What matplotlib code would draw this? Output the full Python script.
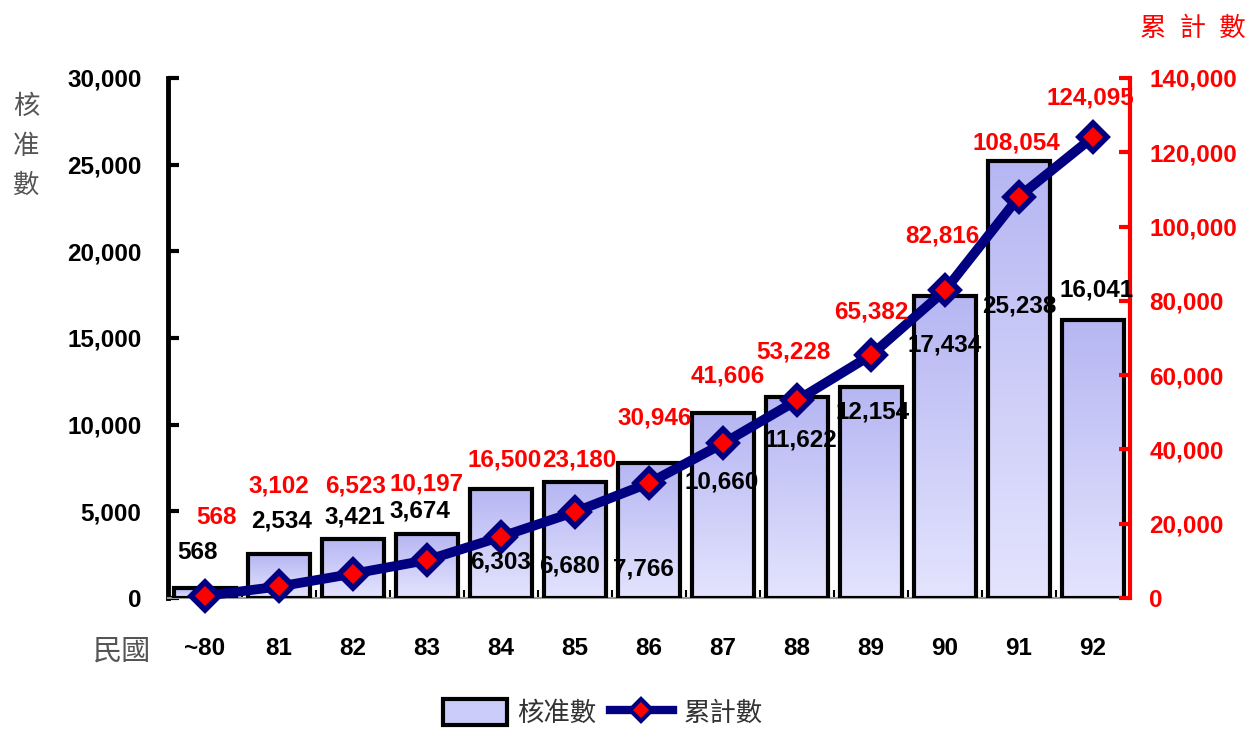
import matplotlib
matplotlib.use("Agg")
import matplotlib.pyplot as plt
import numpy as np
from matplotlib.colors import LinearSegmentedColormap
from matplotlib.patches import Patch
from matplotlib.lines import Line2D
from matplotlib.ticker import FuncFormatter, MultipleLocator

categories = ["~80", "81", "82", "83", "84", "85", "86", "87", "88", "89", "90", "91", "92"]
approved = [568, 2534, 3421, 3674, 6303, 6680, 7766, 10660, 11622, 12154, 17434, 25238, 16041]
cumulative = [568, 3102, 6523, 10197, 16500, 23180, 30946, 41606, 53228, 65382, 82816, 108054, 124095]
left_ticks = [0, 5000, 10000, 15000, 20000, 25000, 30000]
right_ticks = [0, 20000, 40000, 60000, 80000, 100000, 120000, 140000]

# label placement (layout only)
bar_label_y = [2600, 4440, 4670, 5020, 2080, 1850, 1670, 6690, 9110, 10730, 14600, 16850, 17770]
bar_label_dx = [-0.1, 0.03, 0.03, -0.1, 0.0, -0.08, -0.07, -0.02, 0.05, 0.02, 0.0, 0.0, 0.05]
cum_label_y = [21800, 30150, 30150, 30700, 37150, 37150, 48460, 59770, 66230, 77000, 97460, 122500, 134600]
cum_label_dx = [0.16, 0.0, 0.04, 0.0, 0.05, 0.06, 0.08, 0.06, -0.05, 0.0, -0.03, -0.04, -0.04]

FONT = "Liberation Sans"
CJK = ["Noto Sans CJK TC", "DejaVu Sans"]
FS = 17.5

fig = plt.figure(figsize=(12.46, 7.31), dpi=100)
ax = fig.add_axes([168/1246, 1-598/731, (1130-168)/1246, (598-78)/731])
ax2 = ax.twinx()

x = np.arange(len(categories))
bars = ax.bar(x, approved, width=0.84, facecolor="none", edgecolor="black", linewidth=3, zorder=3)

cmap = LinearSegmentedColormap.from_list("lav", ["#e4e4fe", "#b6b6f3"])
grad = np.linspace(0, 1, 256).reshape(-1, 1)
for rect in bars:
    x0, y0 = rect.get_x(), rect.get_y()
    w, h = rect.get_width(), rect.get_height()
    im = ax.imshow(grad, extent=[x0, x0 + w, y0, y0 + h], aspect="auto",
                   cmap=cmap, origin="lower", zorder=2, interpolation="bilinear")
    im.set_clip_path(rect)

ax.set_xlim(-0.5, len(categories) - 0.5)
ax.set_ylim(0, 30000)
ax2.set_ylim(0, 140000)

fmt = FuncFormatter(lambda v, p: f"{int(v):,}")
ax.set_yticks(left_ticks)
ax.yaxis.set_major_formatter(fmt)
ax2.set_yticks(right_ticks)
ax2.yaxis.set_major_formatter(fmt)

ax.set_xticks(x)
ax.set_xticklabels(categories)
ax.xaxis.set_minor_locator(MultipleLocator(1, offset=0.5))
ax.tick_params(axis="x", which="major", length=0, pad=28)
ax.tick_params(axis="x", which="minor", length=6, width=1.5, direction="in", color="black")

for lbl in ax.get_xticklabels() + ax.get_yticklabels():
    lbl.set_fontfamily(FONT)
    lbl.set_fontweight("bold")
    lbl.set_fontsize(FS)
for lbl in ax2.get_yticklabels():
    lbl.set_fontfamily(FONT)
    lbl.set_fontweight("bold")
    lbl.set_fontsize(FS)
    lbl.set_color("red")

ax.tick_params(axis="y", direction="in", length=8, width=3, pad=19, colors="black")
ax2.tick_params(axis="y", direction="in", length=8, width=3, pad=14, colors="red")

for a in (ax, ax2):
    a.spines["top"].set_visible(False)
    a.patch.set_visible(False)
ax.spines["left"].set_linewidth(3.5)
ax.spines["left"].set_color("black")
ax.spines["right"].set_visible(False)
ax.spines["bottom"].set_color("#999999")
ax.spines["bottom"].set_linewidth(1.5)
ax2.spines["left"].set_visible(False)
ax2.spines["bottom"].set_visible(False)
ax2.spines["right"].set_color("red")
ax2.spines["right"].set_linewidth(3)

ax2.plot(x, cumulative, color="#000080", linewidth=7, marker="D", markersize=14,
         markerfacecolor="red", markeredgecolor="#000080", markeredgewidth=4,
         zorder=4, clip_on=False)

for i, v in enumerate(approved):
    ax2.text(x[i] + bar_label_dx[i], bar_label_y[i], f"{v:,}", transform=ax.transData,
             ha="center", va="center", fontsize=FS, fontweight="bold",
             fontfamily=FONT, color="black", zorder=6)
for i, v in enumerate(cumulative):
    ax2.text(x[i] + cum_label_dx[i], cum_label_y[i], f"{v:,}",
             ha="center", va="center", fontsize=FS, fontweight="bold",
             fontfamily=FONT, color="red", zorder=6)

fig.text(26/1246, 1-146/731, "核\n准\n數", ha="center", va="center", fontsize=19,
         family=CJK, color="#555555", linespacing=1.6)
fig.text(122/1246, 1-652/731, "民國", ha="center", va="center", fontsize=21,
         family=CJK, color="#555555")
fig.text(1193/1246, 1-28/731, "累\u2002計\u2002數", ha="center", va="center", fontsize=19,
         family=CJK, color="red")

handles = [
    Patch(facecolor="#ccccfb", edgecolor="black", linewidth=3),
    Line2D([0], [0], color="#000080", linewidth=6, marker="D", markersize=11,
           markerfacecolor="red", markeredgecolor="#000080", markeredgewidth=3),
]
fig.legend(handles, ["核准數", "累計數"], loc="center", bbox_to_anchor=(603/1246, 1-713/731),
           ncol=2, frameon=False, prop={"family": CJK, "size": 19},
           handlelength=2.4, handleheight=1.1, columnspacing=0.5, handletextpad=0.4,
           labelcolor="#333333")

fig.savefig("out.png", dpi=100)
